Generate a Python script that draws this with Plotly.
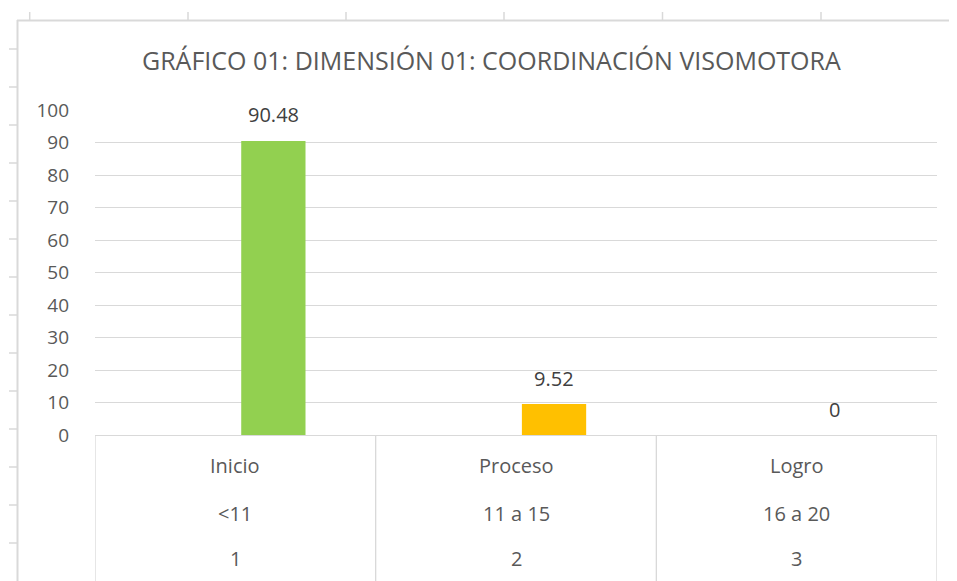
import plotly.graph_objects as go

# data
categories = ["Inicio", "Proceso", "Logro"]
ranges = ["<11", "11 a 15", "16 a 20"]
codes = ["1", "2", "3"]
values = [90.48, 9.52, 0]
bar_colors = ["#92D050", "#FFC000", "#5B9BD5"]

title = "GRÁFICO 01: DIMENSIÓN 01: COORDINACIÓN VISOMOTORA"

FONT = "Open Sans, DejaVu Sans, sans-serif"
GRID = "#d9d9d9"

# plot area in page pixels (left/right/top/bottom); the page body adds 8px
L, R, T, B = 95, 937, 110, 435
PAGE_PAD = 8
W, H = 957, 581
BAR_W, BAR_OFF = 0.229, 0.021
CAT_PX = (R - L) / len(categories)


def xp(px):
    return (px - L) / (R - L)


def yp(py):
    return (B - py) / (B - T)


fig = go.Figure()
fig.add_trace(go.Bar(
    x=categories,
    y=values,
    marker=dict(color=bar_colors, line=dict(width=0)),
    width=BAR_W,
    offset=BAR_OFF,
    hoverinfo="x+y",
))

shapes = []
# table under the axis: vertical separators at category edges
for i in range(len(categories) + 1):
    shapes.append(dict(type="line", xref="x", yref="paper",
                       x0=i - 0.5, x1=i - 0.5, y0=0, y1=yp(600),
                       line=dict(color=GRID, width=1.3)))
# outer sheet frame (top and left) with cell ticks
shapes.append(dict(type="line", xref="paper", yref="paper",
                   x0=xp(17), x1=xp(970), y0=yp(20.5), y1=yp(20.5),
                   line=dict(color="#d9d9d9", width=2)))
shapes.append(dict(type="line", xref="paper", yref="paper",
                   x0=xp(17.5), x1=xp(17.5), y0=yp(20), y1=yp(600),
                   line=dict(color="#d9d9d9", width=2)))
for tx in [29.7, 188, 346, 504, 662.5, 821]:
    shapes.append(dict(type="line", xref="paper", yref="paper",
                       x0=xp(tx), x1=xp(tx), y0=yp(12), y1=yp(20),
                       line=dict(color="#d9d9d9", width=1.5)))
for k in range(14):
    ty = 49 + 38 * k
    shapes.append(dict(type="line", xref="paper", yref="paper",
                       x0=xp(9), x1=xp(17), y0=yp(ty), y1=yp(ty),
                       line=dict(color="#d9d9d9", width=1.5)))

annotations = [dict(text=title, xref="paper", yref="paper",
                    x=xp(491.5), y=yp(60), showarrow=False,
                    xanchor="center", yanchor="middle",
                    font=dict(family=FONT, size=25, color="#595959"))]

# data labels above each bar
for cat, v in zip(categories, values):
    annotations.append(dict(text=f"{v:g}", x=cat, y=v, xref="x", yref="y",
                            showarrow=False, xanchor="center", yanchor="middle",
                            xshift=(BAR_OFF + BAR_W / 2) * CAT_PX, yshift=26,
                            font=dict(family=FONT, size=20, color="#404040")))

rows = [(categories, 465), (ranges, 513), (codes, 558)]
for labels, py in rows:
    for cat, lab in zip(categories, labels):
        annotations.append(dict(text=lab, xref="x", yref="paper",
                                x=cat, y=yp(py), showarrow=False,
                                xanchor="center", yanchor="middle",
                                font=dict(family=FONT, size=20, color="#595959")))

fig.update_layout(
    width=W, height=H,
    margin=dict(l=L - PAGE_PAD, r=W - (R - PAGE_PAD), t=T - PAGE_PAD,
                b=H - (B - PAGE_PAD), pad=0),
    paper_bgcolor="white", plot_bgcolor="white",
    showlegend=False,
    shapes=shapes,
    annotations=annotations,
    xaxis=dict(type="category", range=[-0.5, 2.5], showticklabels=False,
               showgrid=False, zeroline=False, showline=True,
               linecolor=GRID, linewidth=1.3, ticks=""),
    yaxis=dict(range=[0, 100], dtick=10, showgrid=True, gridcolor=GRID,
               gridwidth=1.3, zeroline=False, showline=False, ticks="",
               ticklabelstandoff=25,
               tickfont=dict(family=FONT, size=19, color="#595959")),
)

fig.write_html("out.html")
